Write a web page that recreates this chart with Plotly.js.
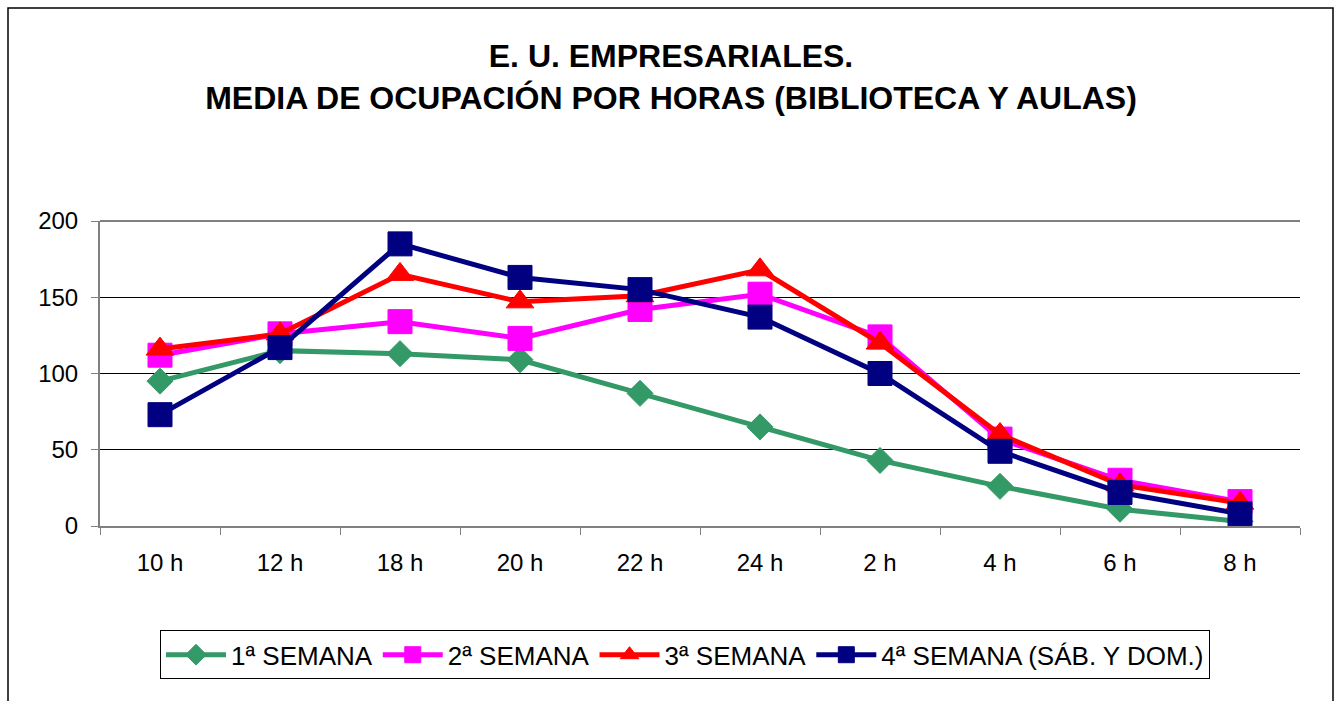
<!DOCTYPE html>
<html><head><meta charset="utf-8">
<script src="https://cdn.plot.ly/plotly-3.0.1.min.js"></script>
<style>html,body{margin:0;padding:0;background:#fff;}#chart{width:1342px;height:701px;}</style>
</head><body><div id="chart"></div>
<script>
const categories = ["10 h","12 h","18 h","20 h","22 h","24 h","2 h","4 h","6 h","8 h"];
const semana1 = [95, 115, 113, 109, 87, 65, 43, 26, 11, 3];
const semana2 = [112, 126, 134, 123, 142, 152, 124, 57, 30, 16];
const semana3 = [116, 126, 165, 147, 151, 168, 120, 60, 27, 15];
const semana4 = [73, 117, 185, 163, 155, 137, 100, 49, 22, 8];
const seriesNames = ["1ª SEMANA","2ª SEMANA","3ª SEMANA","4ª SEMANA (SÁB. Y DOM.)"];

const FONT = "Liberation Sans, Arial, sans-serif";
function tr(name, y, color, symbol, size){
  return {type:"scatter", mode:"lines+markers", name:name, x:categories, y:y,
    line:{color:color, width:5},
    marker:{symbol:symbol, size:size, color:color, line:{color:color, width:1}}};
}
const data = [
  tr(seriesNames[0], semana1, "#339966", "diamond", 20),
  tr(seriesNames[1], semana2, "#FF00FF", "square", 24),
  tr(seriesNames[2], semana3, "#FF0000", "triangle-up", 24),
  tr(seriesNames[3], semana4, "#000080", "square", 24)
];
const layout = {
  width:1342, height:701,
  margin:{l:100, r:42, t:221, b:175},
  paper_bgcolor:"#fff", plot_bgcolor:"#fff",
  font:{family:FONT, size:24, color:"#000"},
  title:{text:"<b>E. U. EMPRESARIALES.</b><br><b>MEDIA DE OCUPACIÓN POR HORAS (BIBLIOTECA Y AULAS)</b>",
    font:{family:FONT, size:32, color:"#000"}, x:0.5, xanchor:"center", y:0.904, yanchor:"middle"},
  xaxis:{type:"category", range:[-0.5,9.5], tickson:"boundaries", ticks:"outside", ticklen:7,
    tickcolor:"#808080", showline:true, linecolor:"#808080", linewidth:2, showgrid:false,
    ticklabelstandoff:14, tickfont:{size:24}, fixedrange:true},
  yaxis:{range:[0,200], dtick:50, ticks:"outside", ticklen:7, tickcolor:"#808080",
    showline:true, linecolor:"#808080", linewidth:2, showgrid:true, gridcolor:"#000", gridwidth:1,
    zeroline:false, ticklabelstandoff:8, tickfont:{size:24}, fixedrange:true},
  showlegend:true,
  legend:{orientation:"h", x:0.4875, xanchor:"center", y:-0.342, yanchor:"top",
    bordercolor:"#000", borderwidth:1, bgcolor:"#fff", font:{family:FONT, size:26},
    itemwidth:60, tracegroupgap:0},
  shapes:[
    {type:"line", xref:"paper", yref:"paper", x0:0, x1:1, y0:1, y1:1, line:{color:"#000", width:1}},
    {type:"rect", xref:"paper", yref:"paper", x0:(8-100)/1200, x1:(1333-100)/1200,
     y0:(526-720)/305, y1:(526-8)/305, line:{color:"#000", width:1.5}, fillcolor:"rgba(0,0,0,0)"}
  ]
};
Plotly.newPlot("chart", data, layout, {displayModeBar:false, staticPlot:true});
</script></body></html>
